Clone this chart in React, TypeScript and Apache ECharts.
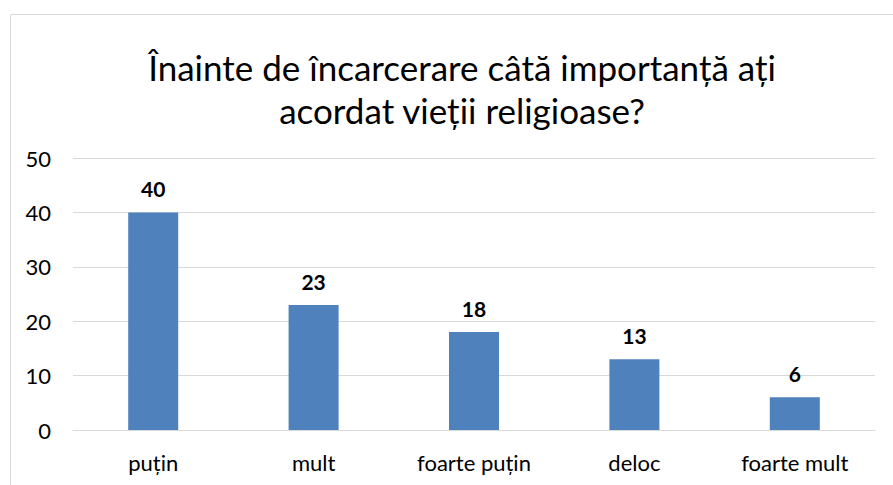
import React, { useEffect, useRef } from "react";
import * as echarts from "echarts";

const categories = ["puțin", "mult", "foarte puțin", "deloc", "foarte mult"];
const values = [40, 23, 18, 13, 6];
const titleLines = ["Înainte de încarcerare câtă importanță ați", "acordat vieții religioase?"];

export default function App() {
  const ref = useRef<HTMLDivElement>(null);
  useEffect(() => {
    document.body.style.margin = "0";
    const chart = echarts.init(ref.current!, null, { renderer: "svg" });
    const font = "Lato, 'Open Sans', sans-serif";
    chart.setOption({
      animation: false,
      backgroundColor: "#ffffff",
      textStyle: { fontFamily: font },
      title: {
        text: titleLines.join("\n"),
        left: 457,
        top: 40,
        textAlign: "center",
        textStyle: { fontSize: 35, fontWeight: "normal", color: "#000000", lineHeight: 43, fontFamily: font },
      },
      graphic: [
        {
          type: "rect",
          shape: { x: 10.5, y: 14.5, width: 900, height: 500 },
          style: { fill: "none", stroke: "#d9d9d9", lineWidth: 1 },
          silent: true,
        },
      ],
      grid: { left: 73, right: 18, top: 158, bottom: 55 },
      xAxis: {
        type: "category",
        data: categories,
        axisLine: { lineStyle: { color: "#d9d9d9" } },
        axisTick: { show: false },
        axisLabel: { fontSize: 22, color: "#000000", margin: 21, fontFamily: font },
      },
      yAxis: {
        type: "value",
        min: 0,
        max: 50,
        interval: 10,
        axisLine: { show: false },
        axisTick: { show: false },
        splitLine: { lineStyle: { color: "#d9d9d9" } },
        axisLabel: { fontSize: 22, color: "#000000", margin: 22, fontFamily: font },
      },
      series: [
        {
          type: "bar",
          data: values,
          barWidth: 50,
          itemStyle: { color: "#4f81bd" },
          label: {
            show: true,
            position: "top",
            distance: 13,
            fontSize: 21,
            fontWeight: "bold",
            color: "#000000",
            fontFamily: font,
          },
        },
      ],
    });
    return () => chart.dispose();
  }, []);
  return <div ref={ref} style={{ position: "fixed", left: 0, top: 0, width: 893, height: 485 }} />;
}
